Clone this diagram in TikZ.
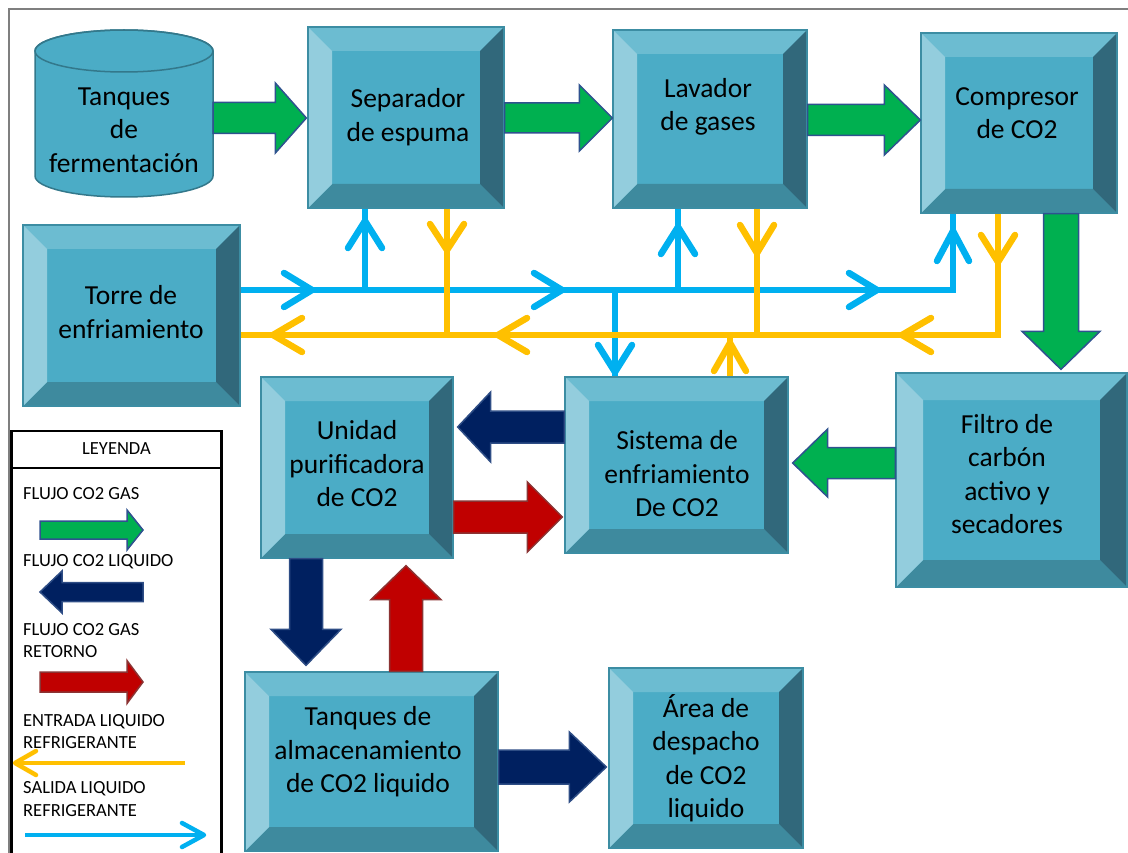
\documentclass[tikz,border=0pt]{standalone}
\usepackage{fontspec}
\setmainfont{Carlito}
\usetikzlibrary{calc}
\definecolor{face}{HTML}{4BACC6}
\definecolor{btop}{HTML}{6CBCD1}
\definecolor{bleft}{HTML}{93CDDD}
\definecolor{bright}{HTML}{31687B}
\definecolor{bbot}{HTML}{3E8A9E}
\definecolor{bord}{HTML}{3C8DA3}
\definecolor{gflow}{HTML}{00B050}
\definecolor{gline}{HTML}{2F528F}
\definecolor{nflow}{HTML}{002060}
\definecolor{nline}{HTML}{2E4D85}
\definecolor{rflow}{HTML}{C00000}
\definecolor{rline}{HTML}{8B3333}
\definecolor{bpipec}{HTML}{00B0F0}
\definecolor{opipec}{HTML}{FFC000}
\definecolor{framec}{HTML}{7F7F7F}
\def\bw{24pt}
\newcommand\barrow[6]{%
  \pgfpointdiff{\pgfpointanchor{#2}{center}}{\pgfpointanchor{#3}{center}}%
  \pgfgetlastxy{\BAdx}{\BAdy}%
  \pgfmathsetmacro\BAlen{veclen(\BAdx,\BAdy)}%
  \pgfmathsetmacro\BAang{atan2(\BAdy,\BAdx)}%
  \filldraw[#1,shift={(#2)},rotate=\BAang] (0,-#4) -- ({\BAlen-#6},-#4) -- ({\BAlen-#6},-#5) -- (\BAlen,0) -- ({\BAlen-#6},#5) -- ({\BAlen-#6},#4) -- (0,#4) -- cycle;}
\newcommand\chev[5]{\draw[#1,shift={#2},rotate=#3] (-#4,#5) -- (0,0) -- (-#4,-#5);}
\tikzset{
  bevw/.code={\def\bw{#1}},
  bevbox/.style={draw=bord, line width=1.3pt, fill=face, inner sep=0pt, path picture={
    \coordinate (pNW) at (path picture bounding box.north west);
    \coordinate (pNE) at (path picture bounding box.north east);
    \coordinate (pSW) at (path picture bounding box.south west);
    \coordinate (pSE) at (path picture bounding box.south east);
    \coordinate (qNW) at ([xshift=\bw,yshift=-\bw]pNW);
    \coordinate (qNE) at ([xshift=-\bw,yshift=-\bw]pNE);
    \coordinate (qSW) at ([xshift=\bw,yshift=\bw]pSW);
    \coordinate (qSE) at ([xshift=-\bw,yshift=\bw]pSE);
    \fill[btop] (pNW) -- (pNE) -- (qNE) -- (qNW) -- cycle;
    \fill[bbot] (pSW) -- (pSE) -- (qSE) -- (qSW) -- cycle;
    \fill[bleft] (pNW) -- (pSW) -- (qSW) -- (qNW) -- cycle;
    \fill[bright] (pNE) -- (pSE) -- (qSE) -- (qNE) -- cycle;
  }},
  lbl/.style={font=\fontsize{27.5}{33.5}\selectfont, align=center, text=black, inner sep=0pt},
  legtxt/.style={font=\fontsize{18.5}{22.5}\selectfont, align=left, anchor=west, text=black, inner sep=0pt},
  garr/.style={fill=gflow, draw=gline, line width=1.5pt},
  narr/.style={fill=nflow, draw=nline, line width=1.5pt},
  rarr/.style={fill=rflow, draw=rline, line width=1.5pt},
  bpipe/.style={draw=bpipec, line width=6.5pt},
  opipe/.style={draw=opipec, line width=6.5pt},
  bchev/.style={draw=bpipec, line width=6.5pt, line cap=round, line join=round},
  ochev/.style={draw=opipec, line width=6.5pt, line cap=round, line join=round},
  lbpipe/.style={draw=bpipec, line width=4.5pt},
  lopipe/.style={draw=opipec, line width=4.5pt},
  lbchev/.style={draw=bpipec, line width=4.5pt, line cap=round, line join=round},
  lochev/.style={draw=opipec, line width=4.5pt, line cap=round, line join=round},
  cylst/.style={fill=face, draw=bord!85!black, line width=1.5pt},
}
\begin{document}
\begin{tikzpicture}[x=1pt,y=-1pt]
\useasboundingbox (0,0) rectangle (1128,853);
% frame
\draw[framec, line width=2pt] (9,853) -- (9,9) -- (1128,9);

% cylinder
\filldraw[cylst] (35,51) -- (35,176) arc[start angle=180,end angle=360,x radius=89pt,y radius=21pt] -- (213,51) arc[start angle=0,end angle=180,x radius=89pt,y radius=21pt] -- cycle;
\draw[cylst, fill=none] (124,51) ellipse [x radius=89pt, y radius=21pt];
\node[lbl, minimum width=178pt] (tanq) at (124,130) {Tanques\\de\\fermentación};

% boxes
\node[bevbox, minimum width=196pt, minimum height=181pt] (sep) at (406,117.5) {};
\node[bevbox, minimum width=194pt, minimum height=178pt] (lav) at (710,119) {};
\node[bevbox, minimum width=196pt, minimum height=180pt] (comp) at (1019,123) {};
\node[bevbox, minimum width=217pt, minimum height=181pt] (torre) at (131.5,315.5) {};
\node[bevbox, minimum width=192pt, minimum height=181pt] (unid) at (357,467.5) {};
\node[bevbox, minimum width=223pt, minimum height=176pt] (sist) at (676.5,465) {};
\node[bevbox, bevw=27pt, minimum width=231pt, minimum height=214pt] (filt) at (1011.5,480) {};
\node[bevbox, minimum width=253pt, minimum height=179pt] (talm) at (371.5,761.5) {};
\node[bevbox, minimum width=194pt, minimum height=180pt] (area) at (706,758) {};

\node[lbl] (sep-t) at (408,117) {Separador\\de espuma};
\node[lbl] (lav-t) at (708,107) {Lavador\\de gases};
\node[lbl] (comp-t) at (1017,113) {Compresor\\de CO2};
\node[lbl] (torre-t) at (131,312) {Torre de\\enfriamiento};
\node[lbl] (unid-t) at (357,464) {Unidad\\purificadora\\de CO2};
\node[lbl] (sist-t) at (677,474) {Sistema de\\enfriamiento\\De CO2};
\node[lbl] (filt-t) at (1007,474) {Filtro de\\carbón\\activo y\\secadores};
\node[lbl] (talm-t) at (368,752) {Tanques de\\almacenamiento\\de CO2 liquido};
\node[lbl] (area-t) at (706,758) {Área de\\despacho\\de CO2\\liquido};

% pipes: salida (blue)
\coordinate (bT) at (torre.east |- 0,290);
\coordinate (bJ) at (953,290);
\draw[bpipe] (bT) -- (bJ) -- (comp.south -| 953,0);
\draw[bpipe] (365,290) -- (sep.south -| 365,0);
\draw[bpipe] (678,290) -- (lav.south -| 678,0);
\draw[bpipe] (615,290) -- (sist.north -| 615,0);
% pipes: entrada (orange)
\coordinate (oT) at (torre.east |- 0,335);
\coordinate (oJ) at (998,335);
\draw[opipe] (comp.south -| 998,0) -- (oJ) -- (oT);
\draw[opipe] (sep.south -| 447,0) -- (447,335);
\draw[opipe] (lav.south -| 757,0) -- (757,335);
\draw[opipe] (sist.north -| 730,0) -- (730,335);
% chevrons
\chev{bchev}{(312,290)}{0}{28}{17}
\chev{bchev}{(562,290)}{0}{28}{17}
\chev{bchev}{(877,290)}{0}{28}{17}
\chev{bchev}{(365,221)}{90}{27}{17}
\chev{bchev}{(678,227)}{90}{27}{17}
\chev{bchev}{(953,231)}{90}{30}{16}
\chev{bchev}{(615,372)}{-90}{27}{17}
\chev{ochev}{(447,250)}{-90}{26}{17}
\chev{ochev}{(757,253)}{-90}{28}{17}
\chev{ochev}{(998,262)}{-90}{27}{17}
\chev{ochev}{(273,335)}{180}{29}{17}
\chev{ochev}{(498,335)}{180}{29}{17}
\chev{ochev}{(902,335)}{180}{29}{17}
\chev{ochev}{(730,343)}{90}{28}{16}

% block arrows
\coordinate (a1s) at (tanq.east |- 0,118);
\coordinate (a1e) at ($(sep.west |- 0,118)+(-1,0)$);
\barrow{garr}{a1s}{a1e}{15.5}{35}{31}
\coordinate (a2s) at (sep.east |- 0,118);
\coordinate (a2e) at (lav.west |- 0,118);
\barrow{garr}{a2s}{a2e}{15}{33}{33}
\coordinate (a3s) at (lav.east |- 0,120);
\coordinate (a3e) at (comp.west |- 0,120);
\barrow{garr}{a3s}{a3e}{15.5}{35}{36}
\coordinate (a4s) at (comp.south -| 1061,0);
\coordinate (a4e) at ($(filt.north -| 1061,0)+(0,-3)$);
\barrow{garr}{a4s}{a4e}{17.5}{39}{38}
\coordinate (a5s) at (filt.west |- 0,463);
\coordinate (a5e) at ($(sist.east |- 0,463)+(4,0)$);
\barrow{garr}{a5s}{a5e}{15.5}{34}{35}
\coordinate (a6s) at (sist.west |- 0,427);
\coordinate (a6e) at ($(unid.east |- 0,427)+(4,0)$);
\barrow{narr}{a6s}{a6e}{16}{35}{33}
\coordinate (a7s) at (unid.east |- 0,517);
\coordinate (a7e) at ($(sist.west |- 0,517)+(-2,0)$);
\barrow{rarr}{a7s}{a7e}{16}{35}{35}
\coordinate (a8s) at (unid.south -| 306,0);
\coordinate (a8e) at ($(talm.north -| 306,0)+(0,-6)$);
\barrow{narr}{a8s}{a8e}{16.5}{35}{36}
\coordinate (a9s) at (talm.north -| 406,0);
\coordinate (a9e) at ($(unid.south -| 406,0)+(0,7)$);
\barrow{rarr}{a9s}{a9e}{16.5}{35}{34}
\coordinate (a10s) at (talm.east |- 0,767);
\coordinate (a10e) at ($(area.west |- 0,767)+(-2,0)$);
\barrow{narr}{a10s}{a10e}{17}{35}{37}

% legend
\draw[black, line width=2.5pt] (11.5,431) rectangle (221.5,870);
\draw[black, line width=2pt] (11.5,468) -- (221.5,468);
\node[font=\fontsize{18.5}{22.5}\selectfont, inner sep=0pt] (leg-h) at (116.5,449) {LEYENDA};
\node[legtxt] (leg1) at (23,494) {FLUJO CO2 GAS};
\node[legtxt] (leg2) at (23,562) {FLUJO CO2 LIQUIDO};
\node[legtxt] (leg3) at (23,640.5) {FLUJO CO2 GAS\\RETORNO};
\node[legtxt] (leg4) at (23,731.5) {ENTRADA LIQUIDO\\REFRIGERANTE};
\node[legtxt] (leg5) at (23,799) {SALIDA LIQUIDO\\REFRIGERANTE};
\coordinate (l1s) at (40,530);
\coordinate (l1e) at (143,530);
\barrow{garr}{l1s}{l1e}{9}{20}{16}
\coordinate (l2s) at (143,592);
\coordinate (l2e) at (40,592);
\barrow{narr}{l2s}{l2e}{9.5}{21}{22}
\coordinate (l3s) at (40,682);
\coordinate (l3e) at (143,682);
\barrow{rarr}{l3s}{l3e}{10}{21.5}{16}
\coordinate (l4s) at (185,763);
\coordinate (l4e) at (15,763);
\draw[lopipe] (l4s) -- (l4e);
\chev{lochev}{(15,763)}{180}{21}{12}
\coordinate (l5s) at (25,835);
\coordinate (l5e) at (204,835);
\draw[lbpipe] (l5s) -- (l5e);
\chev{lbchev}{(204,835)}{0}{22}{12}
\end{tikzpicture}
\end{document}
